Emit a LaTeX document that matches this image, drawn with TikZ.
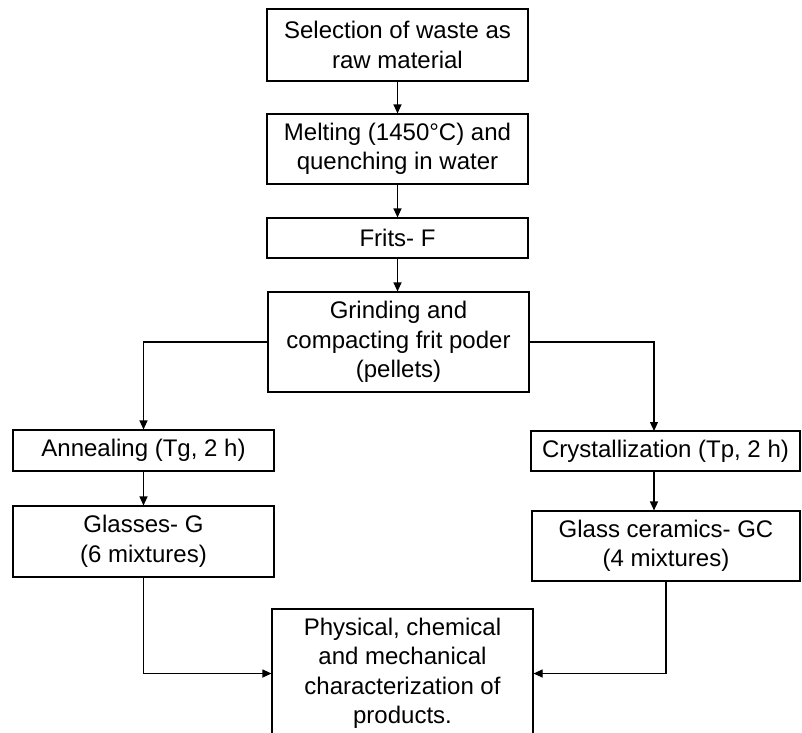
\documentclass[tikz,border=0pt]{standalone}
\usepackage{fontspec}
\setmainfont{Liberation Sans}
\usetikzlibrary{arrows.meta}
\begin{document}
\begin{tikzpicture}[x=1pt,y=-1pt,
  box/.style={draw=black,line width=1.1pt,inner sep=0pt,align=center,
    font=\fontsize{24}{29.5}\selectfont,minimum width=261pt},
  conn/.style={draw=black,line width=1.1pt,-{Triangle[length=9pt,width=8pt]}},
  plain/.style={draw=black,line width=1.1pt}]
\useasboundingbox[fill=white] (0,0) rectangle (802,732);
\begin{scope}
\clip (0,0) rectangle (802,732);
\node[box,minimum height=72pt] (b1) at (397.5,45) {Selection of waste as\\raw material};
\node[box,minimum height=70pt] (b2) at (397.5,149) {Melting (1450°C) and\\quenching in water};
\node[box,minimum height=40pt] (b3) at (397.5,238) {Frits- F};
\node[box,minimum height=100pt] (b4) at (398.5,342) {Grinding and\\compacting frit poder\\(pellets)};
\node[box,minimum height=41pt] (ann) at (143.5,450.5) {Annealing (Tg, 2 h)};
\node[box,minimum height=40pt,minimum width=269pt] (cry) at (665.5,451) {Crystallization (Tp, 2 h)};
\node[box,minimum height=71pt] (gl) at (143.5,541.5) {Glasses- G\\(6 mixtures)};
\node[box,minimum height=70pt,minimum width=268pt] (gc) at (666,546) {Glass ceramics- GC\\(4 mixtures)};
\node[box,minimum height=129pt] (ph) at (402.5,673.5) {Physical, chemical\\and mechanical\\characterization of\\products.};
\coordinate (cr) at (654,431);
\draw[conn] (b1) -- (b2);
\draw[conn] (b2) -- (b3);
\draw[conn] (b3.south) -- (b3.south |- b4.north);
\draw[conn] (b4.west) -| (ann.north);
\draw[conn] (b4.east) -| (cr);
\draw[conn] (ann) -- (gl);
\draw[conn] (cr |- cry.south) -- (cr |- gc.north);
\draw[conn] (gl.south) |- (ph.west);
\draw[conn] (gc.south) |- (ph.east);
\end{scope}
\end{tikzpicture}
\end{document}
